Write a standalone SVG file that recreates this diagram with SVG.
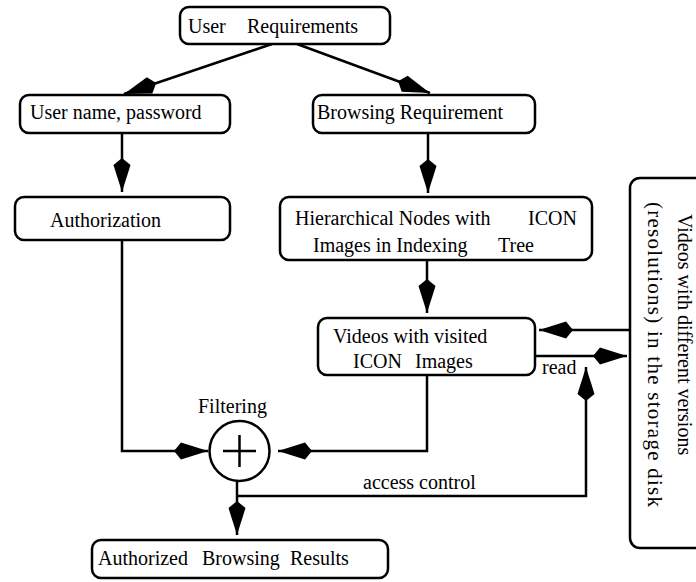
<svg xmlns="http://www.w3.org/2000/svg" width="696" height="582" viewBox="0 0 696 582">
  <style>
    .box { fill: #fff; stroke: #000; stroke-width: 2.5; }
    .lbl { font-family: "Liberation Serif", "Times New Roman", serif; font-size: 20px; fill: #000; }
    .wire { fill: none; stroke: #000; stroke-width: 2.5; }
    .arrow { marker-end: url(#kite); }
  </style>
  <defs>
    <!-- kite-shaped arrowhead, tip at the line end -->
    <marker id="kite" viewBox="-35 -10 36 20" refX="0" refY="0" markerWidth="36" markerHeight="20" markerUnits="userSpaceOnUse" orient="auto">
      <path d="M0,0 L-27,-8.5 L-34,0 L-27,8.5 Z" fill="#000"/>
    </marker>
  </defs>

  <rect width="696" height="582" fill="#fff"/>

  <g id="connectors">
    <line class="wire arrow" x1="272" y1="44" x2="124" y2="94"/>
    <line class="wire arrow" x1="297" y1="44" x2="430" y2="93"/>
    <line class="wire arrow" x1="122" y1="133" x2="122" y2="192"/>
    <line class="wire arrow" x1="428" y1="133" x2="428" y2="193"/>
    <line class="wire arrow" x1="427" y1="260" x2="427" y2="313"/>
    <line class="wire arrow" x1="630" y1="330" x2="539" y2="330"/>
    <line class="wire arrow" x1="535" y1="356" x2="627" y2="356"/>
    <polyline class="wire arrow" points="122,240 122,451 208,451"/>
    <polyline class="wire arrow" points="427,375 427,451 278,451"/>
    <line class="wire arrow" x1="237" y1="481" x2="237" y2="535"/>
    <polyline class="wire arrow" points="237,496 586,496 586,367"/>
    <text class="lbl" x="542" y="374">read</text>
    <text class="lbl" x="363" y="489">access control</text>
  </g>

  <g id="user-requirements">
    <rect class="box" x="180" y="7" width="210" height="37" rx="9"/>
    <text class="lbl" y="33"><tspan x="188">User</tspan><tspan x="247">Requirements</tspan></text>
  </g>

  <g id="user-name-password">
    <rect class="box" x="20" y="95" width="210" height="38" rx="9"/>
    <text class="lbl" x="30" y="119">User name, password</text>
  </g>

  <g id="browsing-requirement">
    <rect class="box" x="313" y="95" width="222" height="38" rx="9"/>
    <text class="lbl" x="317" y="119">Browsing Requirement</text>
  </g>

  <g id="authorization">
    <rect class="box" x="15" y="197" width="215" height="43" rx="9"/>
    <text class="lbl" x="50" y="227">Authorization</text>
  </g>

  <g id="hierarchical-nodes">
    <rect class="box" x="280" y="197" width="312" height="63" rx="9"/>
    <text class="lbl" y="225"><tspan x="295">Hierarchical Nodes with</tspan><tspan x="528">ICON</tspan></text>
    <text class="lbl" y="252"><tspan x="313">Images in Indexing</tspan><tspan x="498">Tree</tspan></text>
  </g>

  <g id="visited-videos">
    <rect class="box" x="318" y="318" width="217" height="57" rx="9"/>
    <text class="lbl" x="333" y="343">Videos with visited</text>
    <text class="lbl" y="368"><tspan x="353">ICON</tspan><tspan x="415">Images</tspan></text>
  </g>

  <g id="storage-disk">
    <rect class="box" x="630" y="178" width="90" height="370" rx="10"/>
    <!-- vertical captions, read top to bottom -->
    <text class="lbl" transform="translate(678,214) rotate(90)">Videos with different versions</text>
    <text class="lbl" transform="translate(648,202) rotate(90)" style="font-size:21px" textLength="305" lengthAdjust="spacing">(resolutions) in the storage disk</text>
  </g>

  <g id="filtering">
    <circle class="box" cx="239.5" cy="451" r="30"/>
    <line class="wire" x1="223" y1="451" x2="256" y2="451"/>
    <line class="wire" x1="239.5" y1="435" x2="239.5" y2="467"/>
    <text class="lbl" x="198" y="413">Filtering</text>
  </g>

  <g id="authorized-results">
    <rect class="box" x="92" y="540" width="296" height="38" rx="9"/>
    <text class="lbl" y="565"><tspan x="98">Authorized</tspan><tspan x="202">Browsing</tspan><tspan x="290">Results</tspan></text>
  </g>
</svg>
